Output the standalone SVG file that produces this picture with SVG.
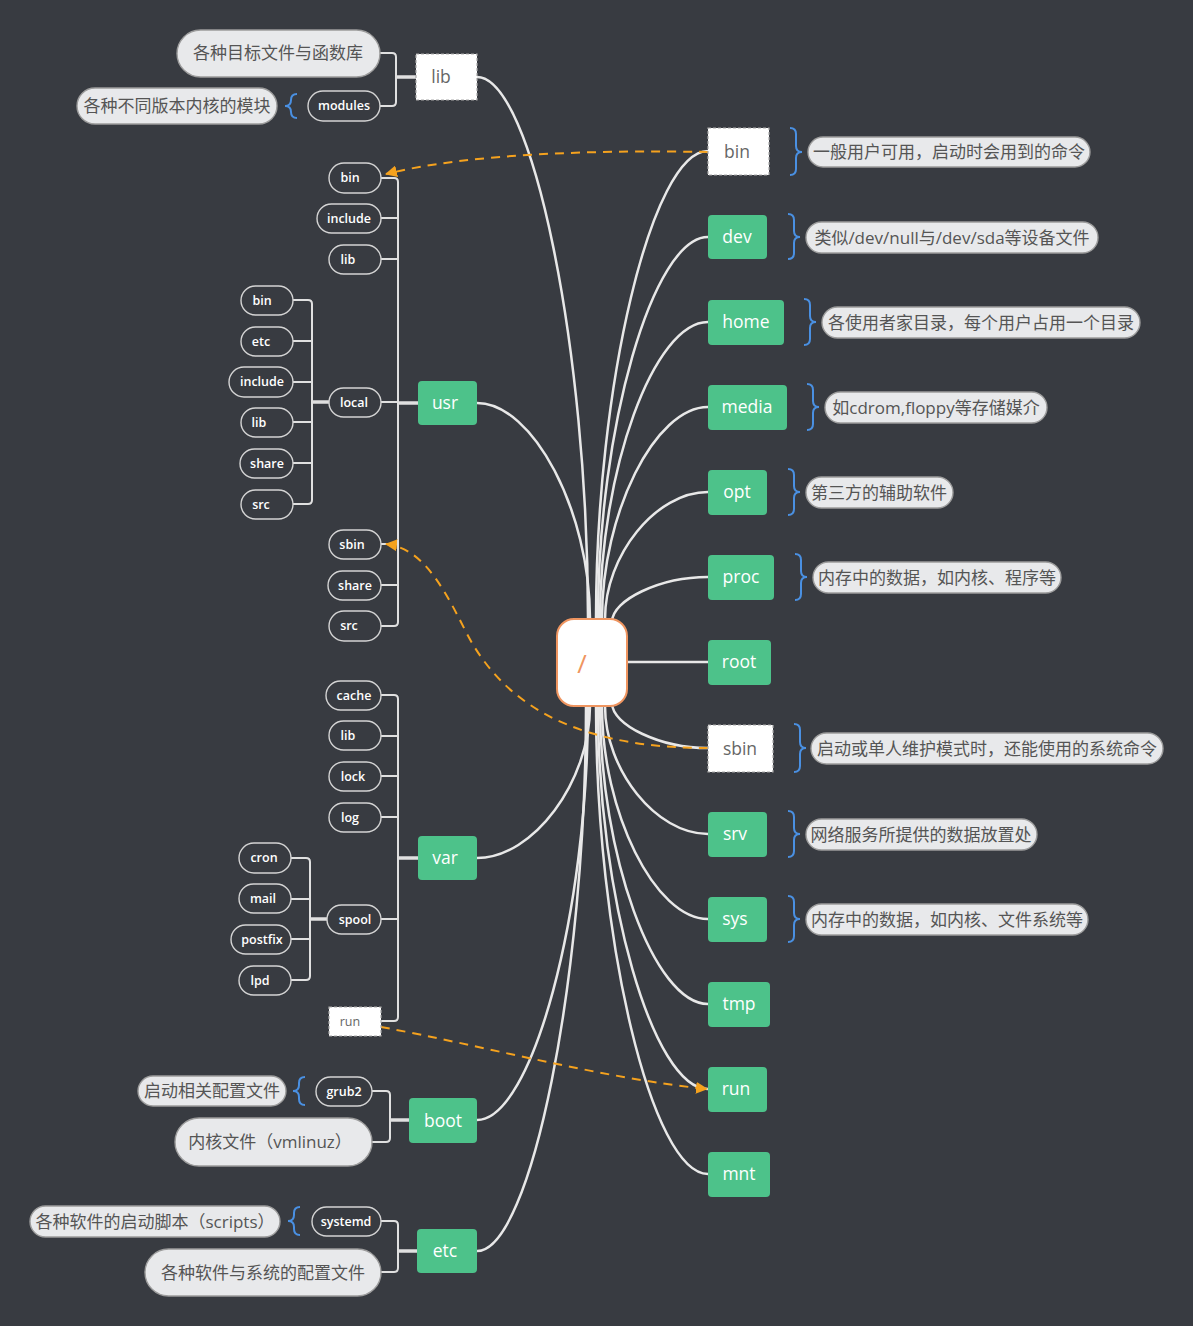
<svg xmlns="http://www.w3.org/2000/svg" width="1193" height="1326" viewBox="0 0 1193 1326">
<style>
.bg{fill:#383b41}
.conn{fill:none;stroke:#e8e8e8;stroke-width:2.5}
.tree{fill:none;stroke:#e0e0e0;stroke-width:2}
.treeThick{fill:none;stroke:#e0e0e0;stroke-width:3.5}
.dash{fill:none;stroke:#f5a21e;stroke-width:2;stroke-dasharray:9 7}
.green{fill:#4dc28a}
.gt{fill:#ffffff;font-family:"Open Sans","Noto Sans",sans-serif;font-size:17.5px;text-anchor:middle}
.wbox{fill:#ffffff;stroke:#a9a9a9;stroke-width:1.2;stroke-dasharray:3 2}
.wt{fill:#666666;font-family:"Open Sans","Noto Sans",sans-serif;font-size:17.5px;text-anchor:middle}
.pill{fill:#383b41;stroke:#d4d4d4;stroke-width:1.4}
.pt{fill:#ffffff;font-family:"Open Sans","Noto Sans",sans-serif;font-size:12.5px;font-weight:600;text-anchor:middle}
.call{fill:#e8e9eb;stroke:#9c9c9c;stroke-width:1.4}
.ct{fill:#555555;font-family:"Open Sans","Noto Sans CJK SC",sans-serif;font-size:17px;text-anchor:middle}
.brace{fill:none;stroke:#4a90e2;stroke-width:2}
</style>
<defs>
<marker id="arr" viewBox="0 0 12 12" refX="11" refY="6" markerWidth="12" markerHeight="12" markerUnits="userSpaceOnUse" orient="auto">
<path d="M0,0 L12,6 L0,12 Z" fill="#f5a21e"/>
</marker>
</defs>
<rect class="bg" x="0" y="0" width="1193" height="1326"/>

<g id="connectors">
<path class="conn" d="M477,77 C532,77 588,348 588,619"/>
<path class="conn" d="M477,403 C533,403 590,511 590,619"/>
<path class="conn" d="M477,858 C533,858 590,782 590,706"/>
<path class="conn" d="M477,1120 C532,1120 588,913 588,706"/>
<path class="conn" d="M477,1251 C531,1251 586,978 586,706"/>
<path class="conn" d="M708,151 C652,151 596,385 596,619"/>
<path class="conn" d="M708,237 C653,237 598,428 598,619"/>
<path class="conn" d="M708,322 C654,322 600,470 600,619"/>
<path class="conn" d="M708,407 C655,407 602,513 602,619"/>
<path class="conn" d="M708,492 C656,492 605,555 605,619"/>
<path class="conn" d="M708,577 C660,577 612,600 612,622"/>
<path class="conn" d="M627,662 H708"/>
<path class="conn" d="M708,748 C660,748 612,725 612,703"/>
<path class="conn" d="M708,834 C656,834 605,770 605,706"/>
<path class="conn" d="M708,919 C655,919 602,812 602,706"/>
<path class="conn" d="M708,1004 C654,1004 600,855 600,706"/>
<path class="conn" d="M708,1089 C653,1089 598,897 598,706"/>
<path class="conn" d="M708,1174 C652,1174 596,940 596,706"/>
<!-- tree brackets -->
<path class="treeThick" d="M416,77 H396"/>
<path class="tree" d="M380,53 H392 Q396,53 396,57 V102 Q396,106 392,106 H380"/>
<path class="treeThick" d="M418,403 H398"/>
<path class="tree" d="M381,178 H394 Q398,178 398,182 V622 Q398,626 394,626 H381 M381,218 H398 M381,259 H398 M381,402 H398 M381,544 H398 M381,585 H398"/>
<path class="treeThick" d="M329,402 H312"/>
<path class="tree" d="M293,300 H308 Q312,300 312,304 V500 Q312,504 308,504 H293 M293,341 H312 M293,382 H312 M293,422 H312 M293,463 H312"/>
<path class="treeThick" d="M418,858 H398"/>
<path class="tree" d="M381,695 H394 Q398,695 398,699 V1017 Q398,1021 394,1021 H381 M381,736 H398 M381,776 H398 M381,817 H398 M381,919 H398"/>
<path class="treeThick" d="M327,919 H310"/>
<path class="tree" d="M291,858 H306 Q310,858 310,862 V976 Q310,980 306,980 H291 M291,899 H310 M291,939 H310"/>
<path class="treeThick" d="M409,1120 H390"/>
<path class="tree" d="M372,1091 H386 Q390,1091 390,1095 V1138 Q390,1142 386,1142 H372"/>
<path class="treeThick" d="M417,1251 H398"/>
<path class="tree" d="M381,1221 H394 Q398,1221 398,1225 V1268 Q398,1272 394,1272 H381"/>
<!-- relationships -->
<path class="dash" d="M708,152 C600,150 470,153 386,174" marker-end="url(#arr)"/>
<path class="dash" d="M708,748 C600,748 510,720 465,630 C440,580 420,548 386,544" marker-end="url(#arr)"/>
<path class="dash" d="M381,1027 C480,1045 600,1078 707,1089" marker-end="url(#arr)"/>
</g>

<g id="root-node">
<rect x="557" y="619" width="70" height="87" rx="17" fill="#ffffff" stroke="#ef9560" stroke-width="2"/>
<text x="582" y="673" fill="#ef9560" font-family="Open Sans,sans-serif" font-size="26" text-anchor="middle">/</text>
</g>

<g id="n-bin">
<rect class="wbox" x="708" y="128" width="61" height="47"/>
<text class="wt" x="737" y="158">bin</text>
<path class="brace" d="M790,128 Q796,128 796,134 V146 Q796,152 802,152 Q796,152 796,158 V169 Q796,175 790,175"/>
<rect class="call" x="808" y="137" width="282" height="30" rx="15"/>
<text class="ct" x="949" y="158">一般用户可用，启动时会用到的命令</text>
</g>
<g id="n-dev">
<rect class="green" x="708" y="215" width="59" height="44" rx="4"/>
<text class="gt" x="737" y="243">dev</text>
<path class="brace" d="M788,214 Q794,214 794,220 V231 Q794,237 800,237 Q794,237 794,243 V253 Q794,259 788,259"/>
<rect class="call" x="806" y="222" width="292" height="31" rx="15.5"/>
<text class="ct" x="952" y="244">类似/dev/null与/dev/sda等设备文件</text>
</g>
<g id="n-home">
<rect class="green" x="708" y="300" width="76" height="45" rx="4"/>
<text class="gt" x="746" y="328">home</text>
<path class="brace" d="M804,299 Q810,299 810,305 V316 Q810,322 816,322 Q810,322 810,328 V339 Q810,345 804,345"/>
<rect class="call" x="822" y="307" width="318" height="31" rx="15.5"/>
<text class="ct" x="981" y="329">各使用者家目录，每个用户占用一个目录</text>
</g>
<g id="n-media">
<rect class="green" x="708" y="385" width="79" height="45" rx="4"/>
<text class="gt" x="747" y="413">media</text>
<path class="brace" d="M807,384 Q813,384 813,390 V401 Q813,407 819,407 Q813,407 813,413 V424 Q813,430 807,430"/>
<rect class="call" x="825" y="392" width="222" height="31" rx="15.5"/>
<text class="ct" x="936" y="414">如cdrom,floppy等存储媒介</text>
</g>
<g id="n-opt">
<rect class="green" x="708" y="470" width="59" height="45" rx="4"/>
<text class="gt" x="737" y="498">opt</text>
<path class="brace" d="M788,469 Q794,469 794,475 V486 Q794,492 800,492 Q794,492 794,498 V509 Q794,515 788,515"/>
<rect class="call" x="806" y="477" width="147" height="31" rx="15.5"/>
<text class="ct" x="879" y="499">第三方的辅助软件</text>
</g>
<g id="n-proc">
<rect class="green" x="708" y="555" width="66" height="45" rx="4"/>
<text class="gt" x="741" y="583">proc</text>
<path class="brace" d="M795,554 Q801,554 801,560 V571 Q801,577 807,577 Q801,577 801,583 V594 Q801,600 795,600"/>
<rect class="call" x="813" y="562" width="248" height="31" rx="15.5"/>
<text class="ct" x="937" y="584">内存中的数据，如内核、程序等</text>
</g>
<g id="n-root">
<rect class="green" x="708" y="640" width="63" height="45" rx="4"/>
<text class="gt" x="739" y="668">root</text>
</g>
<g id="n-sbin">
<rect class="wbox" x="708" y="725" width="65" height="47"/>
<text class="wt" x="740" y="755">sbin</text>
<path class="brace" d="M794,724 Q800,724 800,730 V742 Q800,748 806,748 Q800,748 800,754 V766 Q800,772 794,772"/>
<rect class="call" x="811" y="733" width="352" height="31" rx="15.5"/>
<text class="ct" x="987" y="755">启动或单人维护模式时，还能使用的系统命令</text>
</g>
<g id="n-srv">
<rect class="green" x="708" y="812" width="59" height="45" rx="4"/>
<text class="gt" x="735" y="840">srv</text>
<path class="brace" d="M788,811 Q794,811 794,817 V828 Q794,834 800,834 Q794,834 794,840 V851 Q794,857 788,857"/>
<rect class="call" x="806" y="819" width="231" height="31" rx="15.5"/>
<text class="ct" x="921" y="841">网络服务所提供的数据放置处</text>
</g>
<g id="n-sys">
<rect class="green" x="708" y="897" width="59" height="45" rx="4"/>
<text class="gt" x="735" y="925">sys</text>
<path class="brace" d="M788,896 Q794,896 794,902 V913 Q794,919 800,919 Q794,919 794,925 V936 Q794,942 788,942"/>
<rect class="call" x="806" y="904" width="282" height="31" rx="15.5"/>
<text class="ct" x="947" y="926">内存中的数据，如内核、文件系统等</text>
</g>
<g id="n-tmp">
<rect class="green" x="708" y="982" width="62" height="45" rx="4"/>
<text class="gt" x="739" y="1010">tmp</text>
</g>
<g id="n-run">
<rect class="green" x="708" y="1067" width="59" height="45" rx="4"/>
<text class="gt" x="736" y="1095">run</text>
</g>
<g id="n-mnt">
<rect class="green" x="708" y="1152" width="62" height="45" rx="4"/>
<text class="gt" x="739" y="1180">mnt</text>
</g>

<g id="n-lib">
<rect class="wbox" x="416" y="54" width="61" height="46"/>
<text class="wt" x="441" y="83">lib</text>
<rect class="call" x="177" y="30" width="203" height="47" rx="23.5"/>
<text class="ct" x="278" y="59">各种目标文件与函数库</text>
<rect class="pill" x="308" y="91" width="72" height="30" rx="15"/>
<text class="pt" x="344" y="110">modules</text>
<path class="brace" d="M297,94 Q291,94 291,100 V100 Q291,106 285,106 Q291,106 291,112 V112 Q291,118 297,118"/>
<rect class="call" x="77" y="88" width="200" height="36" rx="18"/>
<text class="ct" x="177" y="112">各种不同版本内核的模块</text>
</g>

<g id="n-usr">
<rect class="green" x="418" y="381" width="59" height="44" rx="4"/>
<text class="gt" x="445" y="409">usr</text>
<rect class="pill" x="329" y="163" width="52" height="30" rx="15"/><text class="pt" x="350" y="182">bin</text>
<rect class="pill" x="317" y="204" width="64" height="29" rx="14.5"/><text class="pt" x="349" y="223">include</text>
<rect class="pill" x="329" y="245" width="52" height="29" rx="14.5"/><text class="pt" x="348" y="264">lib</text>
<rect class="pill" x="329" y="388" width="52" height="29" rx="14.5"/><text class="pt" x="354" y="407">local</text>
<rect class="pill" x="329" y="530" width="52" height="29" rx="14.5"/><text class="pt" x="352" y="549">sbin</text>
<rect class="pill" x="328" y="571" width="53" height="29" rx="14.5"/><text class="pt" x="355" y="590">share</text>
<rect class="pill" x="329" y="611" width="52" height="30" rx="15"/><text class="pt" x="349" y="630">src</text>
<rect class="pill" x="241" y="286" width="52" height="29" rx="14.5"/><text class="pt" x="262" y="305">bin</text>
<rect class="pill" x="241" y="327" width="52" height="29" rx="14.5"/><text class="pt" x="261" y="346">etc</text>
<rect class="pill" x="229" y="367" width="64" height="30" rx="15"/><text class="pt" x="262" y="386">include</text>
<rect class="pill" x="241" y="408" width="52" height="29" rx="14.5"/><text class="pt" x="259" y="427">lib</text>
<rect class="pill" x="240" y="449" width="53" height="29" rx="14.5"/><text class="pt" x="267" y="468">share</text>
<rect class="pill" x="241" y="490" width="52" height="29" rx="14.5"/><text class="pt" x="261" y="509">src</text>
</g>

<g id="n-var">
<rect class="green" x="418" y="836" width="59" height="44" rx="4"/>
<text class="gt" x="445" y="864">var</text>
<rect class="pill" x="326" y="681" width="55" height="29" rx="14.5"/><text class="pt" x="354" y="700">cache</text>
<rect class="pill" x="329" y="721" width="52" height="29" rx="14.5"/><text class="pt" x="348" y="740">lib</text>
<rect class="pill" x="329" y="762" width="52" height="29" rx="14.5"/><text class="pt" x="353" y="781">lock</text>
<rect class="pill" x="329" y="803" width="52" height="29" rx="14.5"/><text class="pt" x="350" y="822">log</text>
<rect class="pill" x="327" y="905" width="54" height="29" rx="14.5"/><text class="pt" x="355" y="924">spool</text>
<rect class="wbox" x="329" y="1007" width="52" height="29"/><text x="350" y="1026" fill="#666" font-family="Open Sans,sans-serif" font-size="12.5" text-anchor="middle">run</text>
<rect class="pill" x="239" y="843" width="52" height="30" rx="15"/><text class="pt" x="264" y="862">cron</text>
<rect class="pill" x="239" y="884" width="52" height="29" rx="14.5"/><text class="pt" x="263" y="903">mail</text>
<rect class="pill" x="231" y="925" width="60" height="29" rx="14.5"/><text class="pt" x="262" y="944">postfix</text>
<rect class="pill" x="239" y="966" width="52" height="29" rx="14.5"/><text class="pt" x="260" y="985">lpd</text>
</g>

<g id="n-boot">
<rect class="green" x="409" y="1098" width="68" height="45" rx="4"/>
<text class="gt" x="443" y="1127">boot</text>
<rect class="pill" x="316" y="1077" width="56" height="29" rx="14.5"/><text class="pt" x="344" y="1096">grub2</text>
<path class="brace" d="M305,1077 Q299,1077 299,1083 V1085 Q299,1091 293,1091 Q299,1091 299,1097 V1099 Q299,1105 305,1105"/>
<rect class="call" x="138" y="1076" width="148" height="30" rx="15"/>
<text class="ct" x="212" y="1097">启动相关配置文件</text>
<rect class="call" x="175" y="1118" width="197" height="48" rx="24"/>
<text class="ct" x="270" y="1148">内核文件（vmlinuz）</text>
</g>

<g id="n-etc">
<rect class="green" x="417" y="1229" width="60" height="44" rx="4"/>
<text class="gt" x="445" y="1257">etc</text>
<rect class="pill" x="312" y="1207" width="69" height="29" rx="14.5"/><text class="pt" x="346" y="1226">systemd</text>
<path class="brace" d="M300,1207 Q294,1207 294,1213 V1215 Q294,1221 288,1221 Q294,1221 294,1227 V1229 Q294,1235 300,1235"/>
<rect class="call" x="30" y="1206" width="250" height="31" rx="15.5"/>
<text class="ct" x="155" y="1228">各种软件的启动脚本（scripts）</text>
<rect class="call" x="145" y="1249" width="236" height="47" rx="23.5"/>
<text class="ct" x="263" y="1279">各种软件与系统的配置文件</text>
</g>
</svg>
